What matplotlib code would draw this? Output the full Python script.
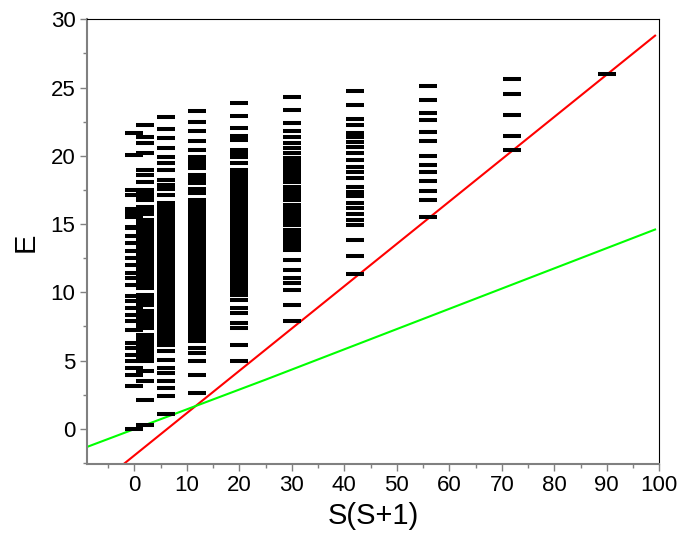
import matplotlib.pyplot as plt
from matplotlib.ticker import MultipleLocator

plt.rcParams['font.family'] = ['Liberation Sans', 'DejaVu Sans']

# S(S+1) for S = 0..9
ss1 = [0, 2, 6, 12, 20, 30, 42, 56, 72, 90]

# energy levels, one list per spin
e_s0 = [0.0, 3.12, 3.97, 4.46, 4.95, 5.44, 5.93, 6.29, 7.26, 7.87, 8.36, 8.85,
        9.33, 9.7, 10.56, 11.05, 11.41, 12.02, 12.5, 12.99, 13.6, 14.09, 14.7,
        14.82, 15.5, 15.8, 16.1, 17.14, 17.5, 20.07, 21.65]
e_s1 = [0.31, 2.14, 3.48, 4.2, 4.95, 5.2, 5.45, 5.7, 5.95, 6.2, 6.45, 6.7, 6.9,
        7.4, 7.65, 7.9, 8.15, 8.4, 8.65, 9.1, 9.35, 9.6, 9.8,
        10.3, 10.52, 10.78, 11.01, 11.25, 11.49, 11.72, 11.96, 12.2, 12.45,
        12.68, 12.92, 13.15, 13.4, 13.63, 13.87, 14.1, 14.35, 14.58, 14.82,
        15.06, 15.3, 15.77, 16.01, 16.25, 16.73, 16.97, 17.22, 17.48,
        18.11, 18.6, 18.97, 20.19, 20.92, 21.4, 22.26]
e_s2 = [1.05, 2.38, 3.0, 3.48, 4.1, 4.46, 5.07, 5.68,
        6.17, 6.41, 6.65, 6.9, 7.14, 7.38, 7.62, 7.87, 8.11, 8.35, 8.6, 8.84,
        9.08, 9.32, 9.57, 9.81, 10.05, 10.3, 10.54, 10.78, 11.02, 11.27, 11.51,
        11.75, 12.0, 12.24, 12.48, 12.72, 12.97, 13.21, 13.45, 13.7, 13.94,
        14.18, 14.42, 14.67, 14.91, 15.15, 15.4, 15.64, 15.88, 16.12, 16.37,
        16.53, 17.14, 17.6, 17.87, 18.2, 18.97, 19.46, 19.9, 20.56, 21.3,
        21.95, 22.82]
e_s3 = [2.63, 3.97, 4.95, 5.56, 5.93,
        6.41, 6.66, 6.88, 7.13, 7.37, 7.6, 7.85, 8.08, 8.33, 8.57, 8.8, 9.05,
        9.29, 9.52, 9.77, 10.01, 10.24, 10.49, 10.73, 10.96, 11.21, 11.45,
        11.68, 11.93, 12.17, 12.4, 12.65, 12.89, 13.12, 13.37, 13.61, 13.84,
        14.09, 14.33, 14.56, 14.8, 15.05, 15.29, 15.52, 15.77, 16.01, 16.24,
        16.49, 16.77, 17.26, 17.6, 18.0, 18.3, 18.6, 19.1, 19.35, 19.6, 19.94,
        20.45, 21.1, 21.8, 22.45, 23.25]
e_s4 = [4.95, 6.17, 7.39, 7.75, 8.49, 8.85, 9.46,
        9.82, 10.06, 10.3, 10.55, 10.79, 11.03, 11.27, 11.52, 11.76, 12.0,
        12.24, 12.49, 12.73, 12.97, 13.21, 13.46, 13.7, 13.94, 14.18, 14.43,
        14.67, 14.91, 15.15, 15.4, 15.64, 15.88, 16.12, 16.37, 16.61, 16.85,
        17.09, 17.34, 17.58, 17.82, 18.06, 18.31, 18.55, 18.79, 18.97,
        19.46, 19.94, 20.2, 20.45, 21.16, 21.45, 22.02, 22.94, 23.85]
e_s5 = [7.87, 9.09, 10.14, 10.68, 11.04, 11.65, 12.38,
        13.12, 13.36, 13.6, 13.85, 14.1, 14.34, 14.58, 14.95, 15.2, 15.44,
        15.68, 15.92, 16.17, 16.41, 16.75, 17.0, 17.24, 17.48, 17.72, 18.05,
        18.3, 18.54, 18.78, 19.05, 19.3, 19.6, 19.85, 20.2, 20.56,
        20.92, 21.4, 21.84, 22.43, 23.36, 24.33]
e_s6 = [11.36, 12.63, 13.85, 14.9, 15.31, 15.75, 16.17, 16.53, 17.02, 17.38,
        17.75, 18.36, 18.84, 19.21, 19.7, 20.23, 20.63, 21.04, 21.36, 21.7,
        22.26, 22.7, 23.72, 24.75]
e_s7 = [15.55, 16.77, 17.43, 18.18, 18.84, 19.33, 19.99, 21.09, 21.77, 22.63,
        23.12, 24.09, 25.13]
e_s8 = [20.43, 21.46, 23.0, 24.5, 25.6]
e_s9 = [26.0]
levels = [e_s0, e_s1, e_s2, e_s3, e_s4, e_s5, e_s6, e_s7, e_s8, e_s9]

# the two straight lines
red_x = [-3, 99.2]
red_y = [-2.88, 28.8]
green_x = [-10, 25, 99.2]
green_y = [-1.47, 3.6, 14.6]

fig = plt.figure(figsize=(6.81, 5.46), dpi=100)
ax = fig.add_axes([0.1273, 0.1496, 0.8408, 0.8151])

ax.plot(red_x, red_y, color='#ff0000', lw=1.5, zorder=2)
ax.plot(green_x, green_y, color='#00ff00', lw=1.5, zorder=2)

for x, ys in zip(ss1, levels):
    ax.plot([x] * len(ys), ys, ls='none', marker='_', ms=13, mew=2.9,
            color='black', zorder=3)

ax.set_xlim(-9.07, 100)
ax.set_ylim(-2.6, 30)
ax.set_xticks(range(0, 101, 10))
ax.set_yticks(range(0, 31, 5))
ax.xaxis.set_minor_locator(MultipleLocator(5))
ax.yaxis.set_minor_locator(MultipleLocator(2.5))

for side in ['left', 'bottom']:
    ax.spines[side].set_color('#808080')
    ax.spines[side].set_linewidth(1.5)
for side in ['top', 'right']:
    ax.spines[side].set_color('black')
    ax.spines[side].set_linewidth(0.8)

ax.tick_params(which='major', direction='out', length=5, width=1,
               color='#808080', labelsize=16, pad=3)
ax.tick_params(which='minor', direction='out', length=3, width=1,
               color='#808080')

ax.set_xlabel('S(S+1)', fontsize=21, labelpad=4)
ax.set_ylabel('E', fontsize=21, labelpad=8)

fig.savefig('out.png', dpi=100)
